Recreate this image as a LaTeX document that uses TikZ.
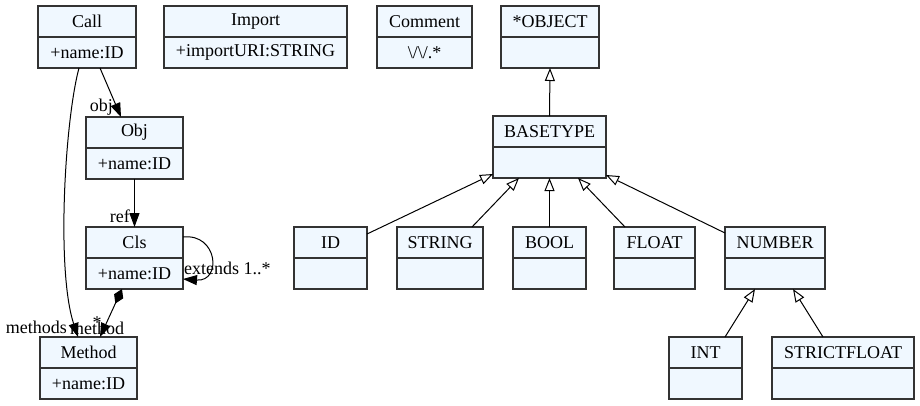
\documentclass[tikz,border=0pt]{standalone}
\usepackage{fontspec}
\setmainfont{Liberation Serif}
\newfontfamily\classfont{Liberation Serif}
\usetikzlibrary{arrows.meta}
\definecolor{classfill}{HTML}{F0F8FF}
\definecolor{classline}{HTML}{333333}
\newcommand\lblfont{\classfont\fontsize{18}{20}\selectfont}
% a UML class: header node (name) and attribute compartment (name-b)
\newcommand\umlclass[6]{%
  \node[classbox, minimum width=#4pt] (#1) at (#2,#3) {#5};
  \node[classbox, minimum width=#4pt, anchor=north] (#1-b) at (#1.south) {#6};
}
\begin{document}
\begin{tikzpicture}[x=1pt,y=-1pt,
  classbox/.style={draw=classline, fill=classfill, line width=1.1pt,
    minimum height=31pt, inner sep=0pt, outer sep=0pt, anchor=north west, font=\lblfont},
  edge/.style={draw=black, line width=1pt},
  assoc/.style={edge, -{Triangle[length=14pt,width=10pt]}},
  inherit/.style={edge, {Triangle[open,length=13pt,width=10pt,fill=white]}-},
  compose/.style={edge, {Diamond[length=16pt,width=10pt]}-{Triangle[length=14pt,width=10pt]}},
  lbl/.style={font=\lblfont, inner sep=0pt}]
\useasboundingbox (0,0) rectangle (920,405);

% classes
\umlclass{call}{38}{6}{98}{Call}{+name:ID}
\umlclass{import}{164}{6}{183}{Import}{+importURI:STRING}
\umlclass{comment}{377}{6}{95}{Comment}{{\textbackslash}/{\textbackslash}/.*}
\umlclass{object}{501}{6}{98}{*OBJECT}{}
\umlclass{obj}{86}{117}{97}{Obj}{+name:ID}
\umlclass{basetype}{493}{116}{113}{BASETYPE}{}
\umlclass{cls}{86}{227}{97}{Cls}{+name:ID}
\umlclass{id}{294}{227}{73}{ID}{}
\umlclass{string}{397}{227}{86}{STRING}{}
\umlclass{bool}{513}{227}{73}{BOOL}{}
\umlclass{float}{614}{227}{81}{FLOAT}{}
\umlclass{number}{725}{227}{100}{NUMBER}{}
\umlclass{method}{40}{337}{97}{Method}{+name:ID}
\umlclass{int}{669}{337}{73}{INT}{}
\umlclass{strictfloat}{772}{337}{142}{STRICTFLOAT}{}

% references
\draw[assoc] ([xshift=13pt]call-b.south) -- ([xshift=-13.5pt]obj.north);
\node[lbl, anchor=east] (lobj) at (113,107) {obj};
\draw[assoc] ([xshift=-8pt]call-b.south) .. controls (65,120) and (56,270) .. ([xshift=-10.5pt]method.north);
\node[lbl, anchor=east] (lmethods) at (67,327) {methods};
\draw[assoc] (obj-b.south) -- (cls.north);
\node[lbl, anchor=east] (lref) at (130,216) {ref};
\draw[assoc] ([yshift=-10pt]cls.north east) .. controls (218,233) and (222,282) .. ([yshift=-5.5pt]cls-b.east);
\node[lbl, anchor=west] (lextends) at (184,268) {extends 1..*};
\draw[compose] ([xshift=-12.5pt]cls-b.south) -- ([xshift=11.5pt]method.north);
\node[lbl, anchor=west] (lmethod) at (70,328) {method};
\node[lbl] (lmult) at (97,323) {*};

% inheritance
\draw[inherit] (object-b.south) -- (basetype.north);
\draw[inherit] ([yshift=4pt]basetype-b.south west) -- ([yshift=8.5pt]id.east);
\draw[inherit] ([xshift=-30.5pt]basetype-b.south) -- ([xshift=32pt]string.north);
\draw[inherit] (basetype-b.south) -- (bool.north);
\draw[inherit] ([xshift=28.5pt]basetype-b.south) -- ([xshift=-29.5pt]float.north);
\draw[inherit] ([yshift=3pt]basetype-b.south east) -- ([yshift=-6pt]number.north west);
\draw[inherit] ([xshift=-20pt]number-b.south) -- ([xshift=19.5pt]int.north);
\draw[inherit] ([xshift=18pt]number-b.south) -- ([xshift=-20pt]strictfloat.north);
\end{tikzpicture}
\end{document}
